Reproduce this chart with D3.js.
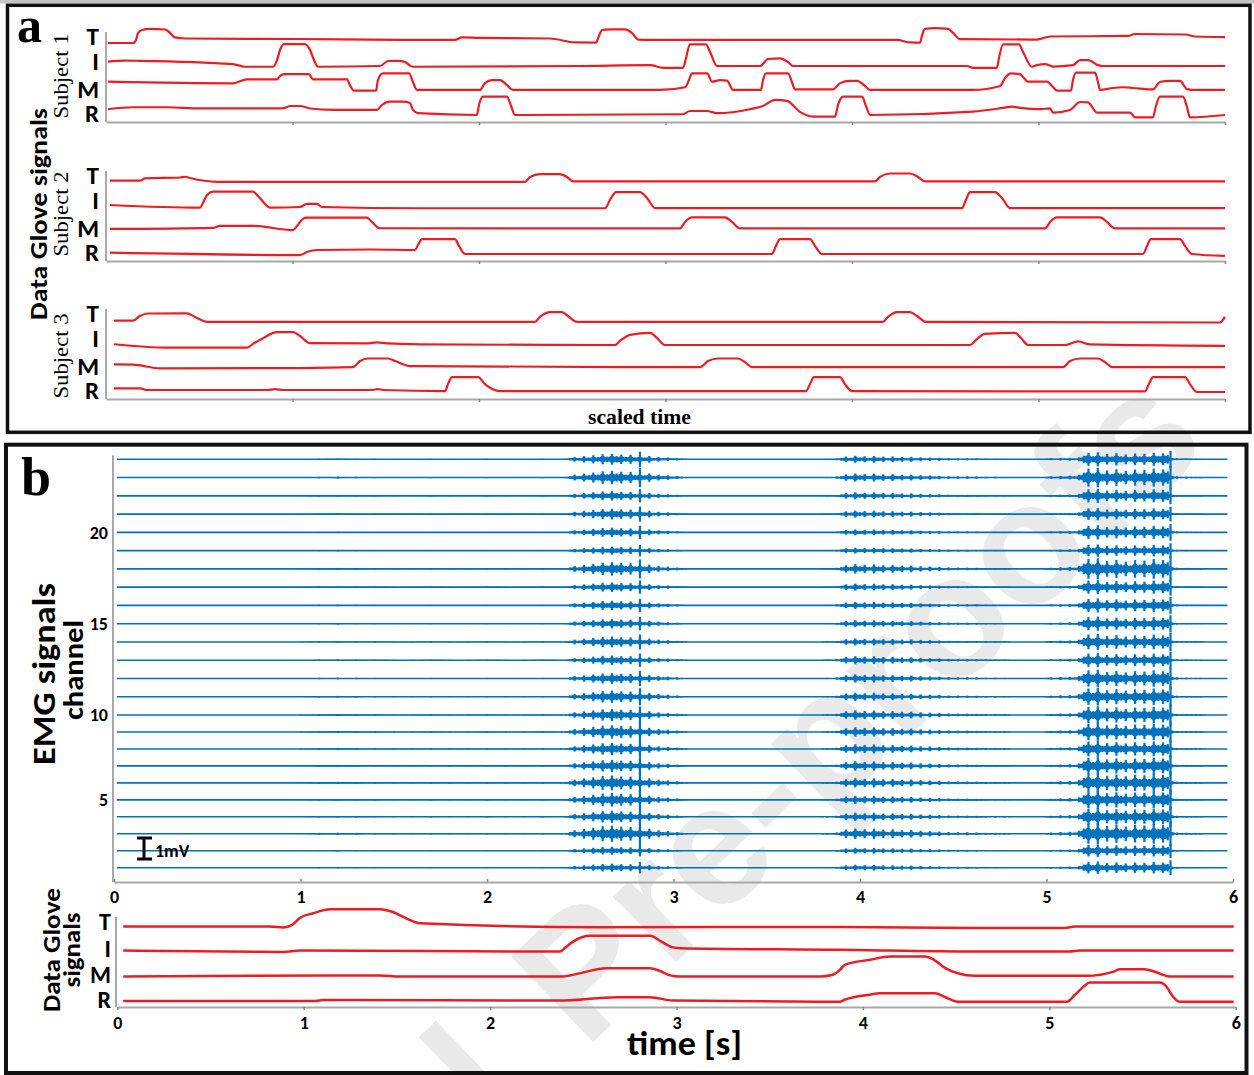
<!DOCTYPE html>
<html><head><meta charset="utf-8">
<script src="https://cdn.jsdelivr.net/npm/d3@7"></script>
<style>body{margin:0;background:#fff}svg{display:block}</style>
</head><body>
<svg id="c" width="1254" height="1075"></svg>
<script>
// ---------------- DATA ----------------
const fingers = ["T","I","M","R"];
const subjects = ["Subject 1","Subject 2","Subject 3"];
const timeTicks = [0,1,2,3,4,5,6];
const channelTicks = [5,10,15,20];
const nChannels = 24;

// Panel a: data glove traces, [scaled time, flexion a.u.]
const s1T = [[0.01,0],[0.145,0],[0.161,0.17],[0.172,0.56],[0.193,0.72],[0.236,0.78],[0.316,0.75],[0.338,0.61],[0.37,0.31],[0.424,0.25],[1.04,0.22],[1.576,0.17],[1.871,0.17],[1.909,0.31],[2.005,0.28],[2.381,0.25],[2.515,0.03],[2.627,0.02],[2.643,0.39],[2.66,0.72],[2.702,0.76],[2.783,0.76],[2.82,0.56],[2.853,0.19],[2.917,0.17],[3.989,0.17],[4.241,0.17],[4.311,0.03],[4.365,0.02],[4.375,0.39],[4.391,0.78],[4.445,0.82],[4.515,0.78],[4.542,0.56],[4.579,0.21],[4.992,0.19],[5.062,0.36],[5.48,0.39],[5.517,0.5],[5.786,0.47],[5.839,0.36],[6,0.33]];
const s1I = [[0.011,0.02],[0.102,0.08],[0.182,0.07],[0.681,-0.11],[0.745,-0.26],[0.895,-0.26],[0.917,0.11],[0.933,0.67],[0.954,1.0],[1.067,1.0],[1.094,0.67],[1.115,0.11],[1.137,-0.26],[1.469,-0.22],[1.512,0.06],[1.566,0.07],[1.603,0],[1.646,-0.26],[2.542,-0.22],[2.917,-0.17],[2.987,-0.32],[3.094,-0.32],[3.11,0.22],[3.131,0.98],[3.217,0.98],[3.239,0.56],[3.276,-0.22],[3.507,-0.22],[3.55,0.17],[3.614,0.21],[3.657,0],[3.684,-0.22],[4.617,-0.22],[4.649,-0.32],[4.777,-0.32],[4.788,0.22],[4.81,0.98],[4.895,0.98],[4.917,0.56],[4.965,-0.26],[4.992,-0.17],[5.035,-0.11],[5.078,-0.25],[5.185,-0.17],[5.223,0.11],[5.265,0.11],[5.319,-0.17],[5.346,-0.22],[6,-0.22]];
const s1M = [[0.011,0.02],[0.681,-0.07],[0.756,0.15],[0.917,0.15],[0.933,0.33],[0.954,0.44],[1.088,0.44],[1.11,0.15],[1.292,0.15],[1.308,-0.17],[1.33,-0.48],[1.448,-0.48],[1.458,0.11],[1.485,0.48],[1.625,0.48],[1.646,0],[1.668,-0.44],[2.005,-0.44],[2.032,-0.06],[2.07,0.11],[2.113,0.11],[2.15,-0.17],[2.182,-0.44],[2.971,-0.44],[3.105,-0.29],[3.126,0.11],[3.142,0.48],[3.223,0.48],[3.25,0.02],[3.292,0.11],[3.33,0.08],[3.362,-0.44],[3.512,-0.44],[3.523,0.11],[3.539,0.48],[3.657,0.48],[3.678,0],[3.694,-0.41],[3.898,-0.41],[3.936,-0.06],[3.989,0.07],[4.027,0.07],[4.07,-0.22],[4.097,-0.44],[4.649,-0.44],[4.794,-0.22],[4.82,0.22],[4.853,0.48],[4.901,0.44],[4.922,0.22],[4.944,0.02],[5.046,0.02],[5.078,-0.28],[5.099,-0.48],[5.174,-0.48],[5.185,0.11],[5.201,0.52],[5.303,0.52],[5.319,0],[5.33,-0.44],[5.399,-0.33],[5.453,-0.29],[5.507,-0.33],[5.614,-0.41],[5.651,0],[5.705,0.07],[5.759,0.06],[5.796,-0.39],[5.839,-0.44],[6,-0.44]];
const s1R = [[0.011,0.04],[0.145,0.15],[0.327,0.15],[0.504,0.09],[0.949,0.09],[0.987,0.22],[1.04,0.22],[1.094,0.08],[1.217,0],[1.453,0],[1.48,0.28],[1.523,0.46],[1.592,0.46],[1.63,0.39],[1.646,0],[1.673,-0.18],[1.989,-0.28],[2.0,0.28],[2.021,0.74],[2.15,0.74],[2.172,0.22],[2.193,-0.28],[3.094,-0.24],[3.131,-0.06],[3.223,-0.06],[3.276,-0.18],[3.453,0.04],[3.523,0.22],[3.587,0.56],[3.651,0.5],[3.721,-0.11],[3.791,-0.37],[3.909,-0.37],[3.925,0.28],[3.952,0.74],[4.054,0.74],[4.075,0.22],[4.097,-0.28],[4.649,-0.09],[4.81,0.11],[4.858,0.18],[4.901,0.11],[5.008,0.04],[5.062,0.09],[5.078,-0.15],[5.169,0],[5.223,0.44],[5.265,0.42],[5.314,-0.15],[5.491,-0.15],[5.517,-0.41],[5.614,-0.41],[5.63,0.22],[5.651,0.74],[5.775,0.74],[5.796,0.17],[5.812,-0.41],[6,-0.28]];

const s2T = [[0.021,0],[0.182,0],[0.209,0.13],[0.397,0.18],[0.424,0.22],[0.45,0.15],[0.595,-0.06],[2.247,-0.06],[2.274,0.21],[2.327,0.37],[2.434,0.37],[2.472,0.21],[2.504,-0.04],[4.123,-0.04],[4.15,0.21],[4.204,0.4],[4.311,0.4],[4.354,0.21],[4.391,-0.04],[6,-0.04]];
const s2I = [[0.021,0],[0.504,-0.15],[0.52,0.11],[0.542,0.56],[0.574,0.74],[0.788,0.74],[0.815,0.5],[0.853,0.06],[0.879,-0.15],[1.04,-0.11],[1.078,0.06],[1.131,0.06],[1.158,-0.11],[1.684,-0.18],[2.676,-0.18],[2.702,0.28],[2.735,0.72],[2.863,0.72],[2.901,0.39],[2.944,-0.17],[4.59,-0.17],[4.611,0.28],[4.633,0.72],[4.767,0.72],[4.804,0.39],[4.847,-0.17],[6,-0.17]];
const s2M = [[0.021,0],[0.574,0.06],[0.611,0.17],[0.788,0.17],[1.003,-0.06],[1.024,0.17],[1.056,0.56],[1.078,0.63],[1.399,0.63],[1.426,0.39],[1.469,0.04],[3.078,0.03],[3.105,0.39],[3.142,0.64],[3.319,0.64],[3.357,0.39],[3.399,0.03],[5.035,0.03],[5.062,0.39],[5.099,0.64],[5.33,0.64],[5.367,0.39],[5.41,0.03],[6,0.03]];
const s2R = [[0.021,0],[1.04,-0.13],[1.078,0.04],[1.131,0.15],[1.426,0.18],[1.657,0.15],[1.673,0.43],[1.694,0.76],[1.871,0.76],[1.893,0.37],[1.925,-0.07],[3.571,-0.07],[3.592,0.37],[3.614,0.76],[3.775,0.76],[3.802,0.37],[3.839,-0.07],[5.56,-0.07],[5.582,0.37],[5.603,0.76],[5.759,0.76],[5.786,0.37],[5.823,-0.07],[6,-0.18]];

const s3T = [[0.043,0],[0.145,0],[0.182,0.26],[0.225,0.4],[0.434,0.41],[0.477,0.21],[0.542,-0.06],[2.3,-0.07],[2.327,0.21],[2.381,0.48],[2.445,0.48],[2.477,0.26],[2.525,-0.07],[4.166,-0.07],[4.193,0.21],[4.241,0.48],[4.311,0.48],[4.349,0.26],[4.397,-0.07],[5.973,-0.1],[6,0.21]];
const s3I = [[0.043,-0.02],[0.327,-0.21],[0.756,-0.21],[0.788,0],[0.842,0.32],[0.917,0.65],[1.003,0.65],[1.04,0.44],[1.094,0.04],[1.399,0.03],[1.453,0.09],[1.507,0.03],[1.684,-0.02],[2.729,-0.06],[2.756,0.17],[2.81,0.5],[2.917,0.61],[2.954,0.33],[2.997,-0.06],[4.633,-0.06],[4.665,0.22],[4.713,0.56],[4.874,0.61],[4.906,0.33],[4.944,-0.06],[5.142,-0.06],[5.212,0.14],[5.276,-0.03],[6,-0.11]];
const s3M = [[0.043,-0.02],[0.145,-0.03],[0.29,-0.24],[1.04,-0.22],[1.324,-0.17],[1.362,0.17],[1.405,0.31],[1.512,0.31],[1.55,0.17],[1.63,-0.11],[3.185,-0.17],[3.228,0.17],[3.282,0.31],[3.389,0.31],[3.426,0.11],[3.464,-0.17],[5.131,-0.17],[5.169,0.17],[5.223,0.31],[5.319,0.31],[5.357,0.11],[5.394,-0.17],[6,-0.17]];
const s3R = [[0.043,-0.02],[0.182,-0.02],[0.22,-0.11],[0.863,-0.11],[0.906,-0.06],[0.949,-0.11],[1.432,-0.11],[1.458,-0.06],[1.485,-0.11],[1.818,-0.17],[1.834,0.22],[1.855,0.61],[1.995,0.61],[2.032,0.22],[2.113,-0.17],[3.753,-0.17],[3.775,0.22],[3.796,0.61],[3.936,0.61],[3.962,0.22],[4.0,-0.17],[5.571,-0.19],[5.592,0.22],[5.614,0.61],[5.786,0.61],[5.812,0.22],[5.85,-0.22],[6,-0.22]];

// trace offsets (a.u.) used to stack fingers in panel a
const offsetsA = [[4.39,3.33,2.22,0.67],[4.46,3.11,1.78,0.46],[4.35,3.06,1.94,0.61]];

// Panel b: data glove traces [time s, flexion a.u.]
const gT = [[0.032,0],[0.82,0],[0.89,-0.04],[0.938,0.09],[0.981,0.44],[1.051,0.67],[1.142,0.87],[1.41,0.87],[1.475,0.74],[1.544,0.44],[1.625,0.17],[2.59,-0.03],[3.877,-0.02],[4.601,-0.07],[5.083,-0.07],[5.137,0],[5.989,0]];
const gI = [[0.032,0],[0.89,-0.07],[0.981,0],[2.375,-0.05],[2.402,0.14],[2.445,0.45],[2.536,0.74],[2.858,0.74],[2.912,0.49],[2.981,0.16],[3.019,0.12],[3.877,0.04],[4.601,-0.05],[5.11,-0.05],[5.164,0],[5.989,0]];
const gM = [[0.032,0],[1.142,0.06],[1.41,0.06],[1.517,0],[2.375,0],[2.627,0.42],[2.858,0.42],[2.912,0.28],[2.965,0.06],[3.019,0],[3.769,0],[3.839,0.09],[3.877,0.34],[3.903,0.59],[4.038,0.84],[4.145,1.0],[4.332,1.0],[4.381,0.84],[4.44,0.44],[4.509,0.17],[4.601,0.04],[5.201,0.04],[5.346,0.25],[5.378,0.37],[5.512,0.37],[5.566,0.24],[5.651,0],[5.989,0]];
const gR = [[0.032,0],[1.062,0],[1.105,0.05],[2.375,0.02],[2.59,0.15],[2.681,0.19],[2.858,0.19],[2.981,0.02],[3.877,-0.04],[3.898,0.05],[3.957,0.2],[4.027,0.3],[4.091,0.39],[4.386,0.39],[4.44,0.2],[4.509,-0.04],[5.094,-0.04],[5.137,0.3],[5.185,0.72],[5.217,0.92],[5.592,0.92],[5.63,0.7],[5.657,0.3],[5.7,-0.04],[5.989,-0.04]];
const offsetsB = [4.02,2.82,1.52,0.3];

// Panel b: EMG, recording span and burst envelopes (mV), sampled every 0.025 s
const emgSpan = [0.015,5.97];
const tonicStart = 1.0, tonicStep = 0.1;
const tonicEnv = [0.02,0.05,0.06,0.05,0.04,0.03,0.03,0.04,0.03,0.03,0.04,0.03,0.03,0.04,0.03];
const burstAStart = 2.42;
const burstAEnv = [0.03,0.07,0.14,0.08,0.19,0.11,0.24,0.14,0.30,0.16,0.32,0.19,0.28,0.14,0.27,0.12,0.23,0.11,0.20,0.08,0.14,0.07,0.11,0.05,0.07,0.04,0.03];
const burstBStart = 3.80;
const burstBEnv = [0.03,0.04,0.03,0.07,0.11,0.22,0.12,0.28,0.15,0.24,0.11,0.27,0.14,0.22,0.09,0.23,0.12,0.19,0.09,0.20,0.08,0.16,0.07,0.14,0.07,0.12,0.05,0.09,0.05,0.08,0.04,0.08,0.04,0.07,0.04,0.05,0.03,0.05,0.03,0.04,0.03];
const burstCStart = 5.00;
const burstCEnv = [0.03,0.05,0.03,0.07,0.04,0.08,0.05,0.12,0.21,0.39,0.18,0.42,0.17,0.31,0.16,0.36,0.18,0.29,0.14,0.35,0.17,0.33,0.16,0.39,0.20,0.35,0.26,0.07,0.05,0.03,0.04,0.03,0.03,0.03,0.01];
const burstStep = 0.025;
// channel gains (channel 1..24) per burst
const gainA = [0.6,0.6,1.2,0.9,1.0,1.1,0.9,0.9,1.0,0.9,0.9,0.8,0.7,0.8,0.7,0.7,0.7,1.0,0.6,0.7,0.8,0.7,1.0,0.8];
const gainB = [0.5,0.5,0.9,0.7,0.7,0.8,0.8,0.8,0.8,0.8,0.7,0.7,0.7,0.6,0.6,0.6,0.6,0.8,0.5,0.5,0.6,0.6,0.7,0.6];
const gainC = [0.7,0.7,1.2,1.0,1.0,1.1,1.0,0.9,1.0,1.0,1.0,1.0,0.8,0.9,0.8,0.8,0.8,1.2,0.7,0.8,0.7,0.8,1.1,0.8];
const spikes = [[2.82,0.45,"A"],[5.665,0.5,"C"]];

// ---------------- DRAWING ----------------
const W=1254,H=1075;
const svg=d3.select("#c");
const RED="#ec1c24", BLUE="#0072bd", GRAY="#a8a8a8";
const SANS="Carlito, Lato, 'Liberation Sans', sans-serif";
const SERIF="'Liberation Serif','Times New Roman',serif";
const intFmt=d3.format("d");

svg.append("rect").attr("width",W).attr("height",H).attr("fill","#fff");
svg.append("rect").attr("width",W).attr("height",3.5).attr("fill","#c4c4c4");

// watermark
const wm=svg.append("g").attr("transform","translate(585,1050) rotate(-44)");
wm.append("text").attr("x",0).attr("y",0).attr("font-family","'Liberation Sans',Arial,sans-serif")
  .attr("font-size",172).attr("font-weight","bold").attr("fill","#e9e9e9").text("Pre-proofs");
wm.append("text").attr("x",-75).attr("y",0).attr("text-anchor","end").attr("font-family","'Liberation Sans',Arial,sans-serif")
  .attr("font-size",172).attr("font-weight","bold").attr("fill","#e9e9e9").text("Journal");

function styleAxis(g,fs){
  g.select(".domain").attr("stroke",GRAY).attr("stroke-width",2);
  g.selectAll(".tick line").attr("stroke","#8a8a8a").attr("stroke-width",1.5);
  g.selectAll(".tick text").attr("font-family",SANS).attr("font-weight","bold").attr("font-size",fs||18).attr("fill","#000");
}
function vtext(x,y,str,opts){
  const t=svg.append("text").attr("transform",`translate(${x},${y}) rotate(-90)`)
    .attr("text-anchor","middle").attr("font-family",opts.family).attr("font-size",opts.size)
    .attr("font-weight",opts.weight||"normal").attr("fill","#000").text(str);
  if(opts.len) t.attr("textLength",opts.len).attr("lengthAdjust","spacingAndGlyphs");
  return t;
}

// ---- Panel a ----
const xA=d3.scaleLinear().domain([0,6]).range([106,1225]);
const aBottoms=[122,261,399], aHeight=90;
const tracesA=[[s1T,s1I,s1M,s1R],[s2T,s2I,s2M,s2R],[s3T,s3I,s3M,s3R]];
const subjCenters=[76,214,356];
const labelSlotsA=[4.28,2.89,1.33,0];
subjects.forEach((s,i)=>{
  const yA=d3.scaleLinear().domain([0,5]).range([aBottoms[i],aBottoms[i]-aHeight]);
  svg.append("line").attr("x1",xA(0)).attr("x2",xA(0)).attr("y1",yA(5)).attr("y2",yA(0))
    .attr("stroke",GRAY).attr("stroke-width",2);
  const ax=svg.append("g").attr("transform",`translate(0,${aBottoms[i]})`)
    .call(d3.axisBottom(xA).tickValues(timeTicks.slice(1)).tickFormat("").tickSize(3).tickSizeOuter(0));
  styleAxis(ax);
  const line=d3.line().x(d=>xA(d[0])).curve(d3.curveMonotoneX);
  fingers.forEach((f,j)=>{
    line.y(d=>yA(offsetsA[i][j]+d[1]));
    svg.append("path").attr("d",line(tracesA[i][j])).attr("fill","none")
      .attr("stroke",RED).attr("stroke-width",2.2).attr("stroke-linejoin","round");
    svg.append("text").attr("x",99).attr("y",yA(labelSlotsA[j])).attr("text-anchor","end")
      .attr("font-family",SANS).attr("font-weight","bold").attr("font-size",25).text(f);
  });
  vtext(68,subjCenters[i],s,{family:SERIF,size:22,len:85});
});
vtext(47,214,"Data Glove signals",{family:SANS,size:25,weight:"bold",len:212});
svg.append("text").attr("x",639.5).attr("y",424).attr("text-anchor","middle")
  .attr("font-family",SERIF).attr("font-weight","bold").attr("font-size",20)
  .attr("textLength",103).attr("lengthAdjust","spacingAndGlyphs").text("scaled time");
svg.append("text").attr("x",17).attr("y",42).attr("font-family",SERIF).attr("font-weight","bold")
  .attr("font-size",50).text("a");

// ---- Panel b: EMG ----
const xE=d3.scaleLinear().domain([0,6]).range([114,1233]);
const yCh=d3.scaleLinear().domain([1,10,24]).range([867.7,715,459.3]);
const mv=d3.scaleLinear().domain([0,1]).range([0,21]);
const emgBottom=882;
svg.append("line").attr("x1",113).attr("x2",113).attr("y1",yCh(24)-4).attr("y2",emgBottom)
  .attr("stroke",GRAY).attr("stroke-width",2);
const axE=svg.append("g").attr("transform",`translate(0,${emgBottom})`)
  .call(d3.axisBottom(xE).tickValues(timeTicks).tickFormat(intFmt).tickSize(-3).tickSizeOuter(0).tickPadding(8));
styleAxis(axE,18);
const axY=svg.append("g").attr("transform","translate(113,0)")
  .call(d3.axisLeft(yCh).tickValues(channelTicks).tickFormat(intFmt).tickSize(0).tickPadding(5));
axY.select(".domain").remove();
styleAxis(axY,18);

const bursts=[
  {start:tonicStart,step:tonicStep,env:tonicEnv,gain:gainB},
  {start:burstAStart,step:burstStep,env:burstAEnv,gain:gainA},
  {start:burstBStart,step:burstStep,env:burstBEnv,gain:gainB},
  {start:burstCStart,step:burstStep,env:burstCEnv,gain:gainC}
];
const gEmg=svg.append("g");
d3.range(1,nChannels+1).forEach(ch=>{
  const yc=yCh(ch);
  gEmg.append("line").attr("x1",xE(emgSpan[0])).attr("x2",xE(emgSpan[1])).attr("y1",yc).attr("y2",yc)
    .attr("stroke",BLUE).attr("stroke-width",1.6);
  bursts.forEach(b=>{
    const g=b.gain[ch-1];
    const pts=b.env.map((v,k)=>[b.start+k*b.step,v*g]);
    // dense core of the burst
    const area=d3.area().x(d=>xE(d[0])).y0(d=>yc+mv(d[1]*0.65)).y1(d=>yc-mv(d[1]*0.65)).curve(d3.curveMonotoneX);
    gEmg.append("path").attr("d",area(pts)).attr("fill",BLUE);
    // individual spikes at each envelope sample
    gEmg.selectAll(null).data(pts).enter().append("line")
      .attr("x1",d=>xE(d[0])).attr("x2",d=>xE(d[0]))
      .attr("y1",d=>yc-mv(d[1])).attr("y2",d=>yc+mv(d[1]))
      .attr("stroke",BLUE).attr("stroke-width",2.2);
  });
  spikes.forEach(s=>{
    const g=(s[2]==="A"?gainA:gainC)[ch-1];
    gEmg.append("line").attr("x1",xE(s[0])).attr("x2",xE(s[0]))
      .attr("y1",yc-mv(s[1]*g)).attr("y2",yc+mv(s[1]*g)).attr("stroke",BLUE).attr("stroke-width",2.2);
  });
});
// scale bar 1 mV
const sbX=144, sbMid=848.5;
svg.append("line").attr("x1",sbX).attr("x2",sbX).attr("y1",sbMid-mv(0.5)).attr("y2",sbMid+mv(0.5)).attr("stroke","#000").attr("stroke-width",3);
[sbMid-mv(0.5),sbMid+mv(0.5)].forEach(y=>svg.append("line").attr("x1",sbX-7).attr("x2",sbX+8).attr("y1",y).attr("y2",y).attr("stroke","#000").attr("stroke-width",3));
svg.append("text").attr("x",155).attr("y",857).attr("font-family",SANS).attr("font-weight","bold").attr("font-size",18).text("1mV");

vtext(55,674,"EMG signals",{family:SANS,size:33,weight:"bold",len:182});
vtext(83,670,"channel",{family:SANS,size:28,weight:"bold",len:100});
svg.append("text").attr("x",21).attr("y",495).attr("font-family",SERIF).attr("font-weight","bold")
  .attr("font-size",54).text("b");

// ---- Panel b: glove ----
const xG=d3.scaleLinear().domain([0,6]).range([117.3,1235.7]);
const yG=d3.scaleLinear().domain([0,4.5]).range([1007,917]);
svg.append("line").attr("x1",116).attr("x2",116).attr("y1",yG(4.5)).attr("y2",yG(0)).attr("stroke",GRAY).attr("stroke-width",2);
const axG=svg.append("g").attr("transform",`translate(0,${yG(0)})`)
  .call(d3.axisBottom(xG).tickValues(timeTicks).tickFormat(intFmt).tickSize(3).tickSizeOuter(0).tickPadding(6));
styleAxis(axG,18);
const tracesB=[gT,gI,gM,gR];
const labelSlotsB=[3.85,2.5,1.2,-0.05];
const lineG=d3.line().x(d=>xG(d[0])).curve(d3.curveMonotoneX);
fingers.forEach((f,j)=>{
  lineG.y(d=>yG(offsetsB[j]+d[1]));
  svg.append("path").attr("d",lineG(tracesB[j])).attr("fill","none").attr("stroke",RED).attr("stroke-width",2.5).attr("stroke-linejoin","round");
  svg.append("text").attr("x",111).attr("y",yG(labelSlotsB[j])).attr("text-anchor","end")
    .attr("font-family",SANS).attr("font-weight","bold").attr("font-size",24).text(f);
});
vtext(60,950,"Data Glove",{family:SANS,size:24,weight:"bold",len:124});
vtext(80,950,"signals",{family:SANS,size:24,weight:"bold",len:75});
svg.append("text").attr("x",684.5).attr("y",1055).attr("text-anchor","middle")
  .attr("font-family",SANS).attr("font-weight","bold").attr("font-size",34)
  .attr("textLength",115).attr("lengthAdjust","spacingAndGlyphs").text("time [s]");

// ---- frames ----
svg.append("rect").attr("x",7.5).attr("y",5.3).attr("width",1242.5).attr("height",427)
  .attr("fill","none").attr("stroke","#111").attr("stroke-width",3.5);
svg.append("rect").attr("x",6).attr("y",444.7).attr("width",1240.5).attr("height",628.3)
  .attr("fill","none").attr("stroke","#111").attr("stroke-width",4);
</script>
</body></html>
